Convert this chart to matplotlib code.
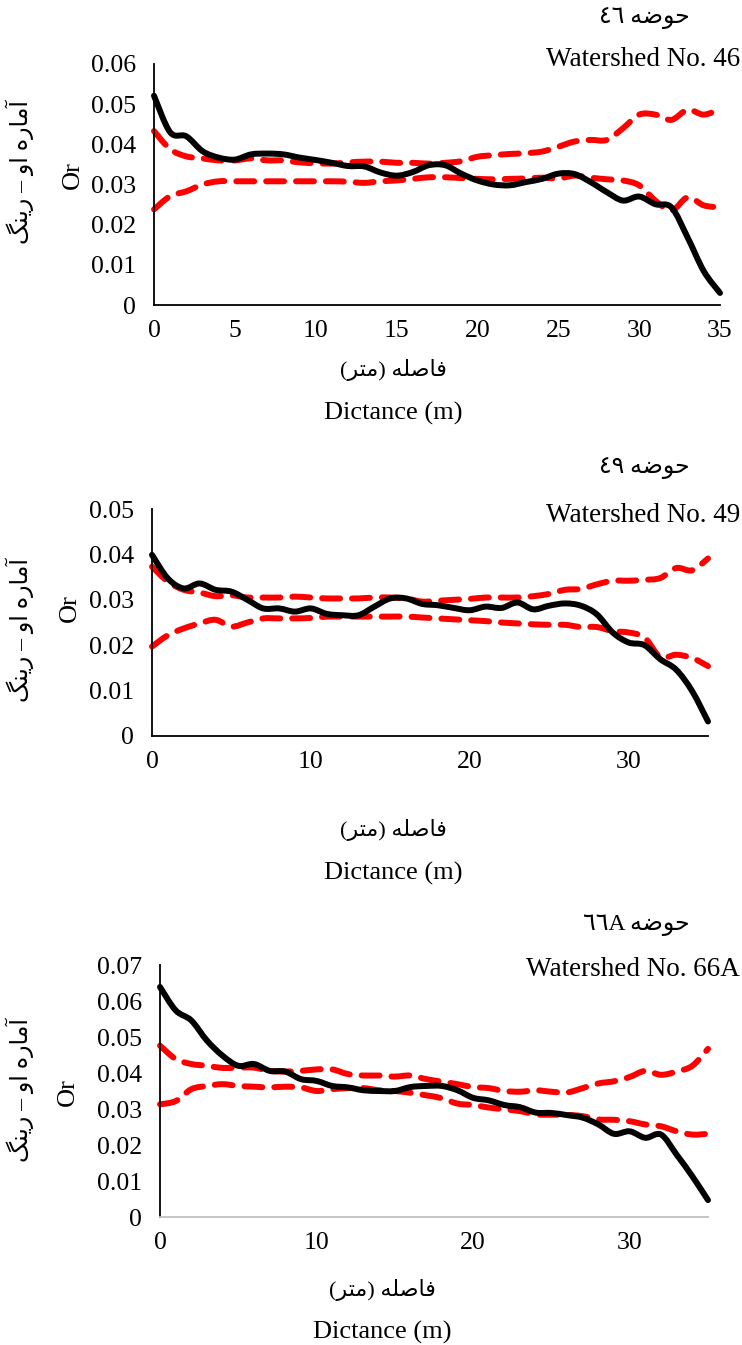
import numpy as np
import matplotlib
matplotlib.use("Agg")
import matplotlib.pyplot as plt
from matplotlib.path import Path
from matplotlib.patches import PathPatch

# distance steps (m)
dist = np.arange(0, 36)

# watershed 46
ws46_or = [0.0521, 0.0430, 0.0420, 0.0383, 0.0367, 0.0362, 0.0375, 0.0377, 0.0375, 0.0367,
           0.0361, 0.0354, 0.0346, 0.0345, 0.0330, 0.0322, 0.0331, 0.0348, 0.0348, 0.0327,
           0.0310, 0.0300, 0.0298, 0.0306, 0.0314, 0.0327, 0.0326, 0.0306, 0.0281, 0.0260,
           0.0270, 0.0251, 0.0243, 0.0168, 0.0084, 0.0030]
ws46_hi = [0.0433, 0.0388, 0.0370, 0.0365, 0.0360, 0.0360, 0.0365, 0.0360, 0.0360, 0.0355,
           0.0353, 0.0352, 0.0355, 0.0357, 0.0357, 0.0354, 0.0354, 0.0352, 0.0354, 0.0358,
           0.0369, 0.0373, 0.0376, 0.0378, 0.0382, 0.0394, 0.0407, 0.0411, 0.0411, 0.0440,
           0.0474, 0.0474, 0.0461, 0.0486, 0.0474, 0.0488]
ws46_lo = [0.0238, 0.0271, 0.0283, 0.0300, 0.0308, 0.0308, 0.0308, 0.0308, 0.0308, 0.0308,
           0.0308, 0.0308, 0.0307, 0.0304, 0.0308, 0.0310, 0.0314, 0.0318, 0.0318, 0.0316,
           0.0314, 0.0313, 0.0314, 0.0315, 0.0317, 0.0315, 0.0322, 0.0317, 0.0313, 0.0310,
           0.0298, 0.0260, 0.0235, 0.0268, 0.0248, 0.0243]

# watershed 49
ws49_or = [0.0399, 0.0347, 0.0325, 0.0336, 0.0322, 0.0318, 0.0300, 0.0281, 0.0281, 0.0274,
           0.0281, 0.0269, 0.0266, 0.0266, 0.0285, 0.0303, 0.0303, 0.0291, 0.0288, 0.0282,
           0.0277, 0.0285, 0.0282, 0.0294, 0.0279, 0.0287, 0.0292, 0.0287, 0.0268, 0.0228,
           0.0206, 0.0200, 0.0169, 0.0146, 0.0099, 0.0032]
ws49_hi = [0.0373, 0.0340, 0.0322, 0.0316, 0.0308, 0.0310, 0.0305, 0.0305, 0.0305, 0.0307,
           0.0305, 0.0303, 0.0303, 0.0303, 0.0305, 0.0305, 0.0303, 0.0296, 0.0298, 0.0300,
           0.0302, 0.0305, 0.0305, 0.0305, 0.0308, 0.0313, 0.0322, 0.0324, 0.0334, 0.0342,
           0.0342, 0.0344, 0.0348, 0.0370, 0.0365, 0.0391]
ws49_lo = [0.0197, 0.0222, 0.0237, 0.0248, 0.0256, 0.0241, 0.0250, 0.0259, 0.0259, 0.0259,
           0.0260, 0.0263, 0.0263, 0.0263, 0.0263, 0.0263, 0.0263, 0.0261, 0.0259, 0.0257,
           0.0255, 0.0253, 0.0250, 0.0248, 0.0246, 0.0245, 0.0245, 0.0240, 0.0240, 0.0231,
           0.0228, 0.0217, 0.0174, 0.0179, 0.0172, 0.0154]

# watershed 66A
ws66_or = [0.0639, 0.0574, 0.0546, 0.0490, 0.0448, 0.0420, 0.0425, 0.0406, 0.0404, 0.0383,
           0.0378, 0.0364, 0.0360, 0.0352, 0.0350, 0.0350, 0.0361, 0.0364, 0.0364, 0.0352,
           0.0331, 0.0324, 0.0311, 0.0305, 0.0290, 0.0289, 0.0283, 0.0276, 0.0257, 0.0231,
           0.0238, 0.0220, 0.0229, 0.0173, 0.0113, 0.0047]
ws66_hi = [0.0476, 0.0439, 0.0425, 0.0420, 0.0414, 0.0415, 0.0415, 0.0406, 0.0404, 0.0406,
           0.0410, 0.0410, 0.0397, 0.0393, 0.0393, 0.0390, 0.0393, 0.0383, 0.0376, 0.0369,
           0.0361, 0.0358, 0.0350, 0.0348, 0.0352, 0.0348, 0.0346, 0.0358, 0.0371, 0.0377,
           0.0389, 0.0406, 0.0395, 0.0404, 0.0420, 0.0467]
ws66_lo = [0.0313, 0.0322, 0.0355, 0.0364, 0.0369, 0.0364, 0.0362, 0.0360, 0.0362, 0.0360,
           0.0350, 0.0355, 0.0358, 0.0358, 0.0352, 0.0350, 0.0345, 0.0338, 0.0330, 0.0315,
           0.0311, 0.0304, 0.0299, 0.0294, 0.0285, 0.0284, 0.0284, 0.0280, 0.0271, 0.0270,
           0.0266, 0.0257, 0.0252, 0.0238, 0.0229, 0.0231]

# Arabic letters -> first presentation form, number of forms (4 dual-joining, 2 right-joining)
AR_FORMS = {
    'ا': (0xFE8D, 2), 'آ': (0xFE81, 2), 'و': (0xFEED, 2), 'ر': (0xFEAD, 2),
    'ت': (0xFE95, 4), 'ح': (0xFEA1, 4), 'ص': (0xFEB9, 4), 'ض': (0xFEBD, 4),
    'ف': (0xFED1, 4), 'ل': (0xFEDD, 4), 'م': (0xFEE1, 4), 'ن': (0xFEE5, 4),
    'ه': (0xFEE9, 4), 'ی': (0xFBFC, 4), 'گ': (0xFB92, 4),
}


def fa(word):
    # join letters and return the word in visual (left to right) order
    out = []
    for i, ch in enumerate(word):
        base, n = AR_FORMS[ch]
        prev = word[i - 1] if i > 0 else None
        nxt = word[i + 1] if i + 1 < len(word) else None
        jp = prev in AR_FORMS and AR_FORMS[prev][1] == 4
        jn = n == 4 and nxt in AR_FORMS
        form = {(False, False): 0, (True, False): 1, (False, True): 2, (True, True): 3}[(jp, jn)]
        out.append(chr(base + form))
    return ''.join(reversed(out))


def smooth(x, y):
    # Bezier path through the points, like a spreadsheet "smoothed line"
    P = np.column_stack([x, y]).astype(float)
    n = len(P)
    verts, codes = [P[0]], [Path.MOVETO]
    for i in range(n - 1):
        p0, p1, p2, p3 = P[max(i - 1, 0)], P[i], P[i + 1], P[min(i + 2, n - 1)]
        verts += [p1 + (p2 - p0) / 6, p2 - (p3 - p1) / 6, p2]
        codes += [Path.CURVE4] * 3
    return Path(verts, codes)


titles_fa = ['٤٦ ' + fa('حوضه'), '٤٩ ' + fa('حوضه'), '٦٦A ' + fa('حوضه')]
titles_en = ['Watershed No. 46', 'Watershed No. 49', 'Watershed No. 66A']
xlab_fa = '(' + fa('متر') + ') ' + fa('فاصله')
ylab_fa = fa('رینگ') + ' – ' + fa('او') + ' ' + fa('آماره')

W, H = 742, 1345
SERIF = ['Liberation Serif', 'DejaVu Sans']
fig = plt.figure(figsize=(W / 100, H / 100), dpi=100)


def px_text(x, y, s, **kw):
    fig.text(x / W, 1 - y / H, s, family=SERIF, **kw)


panels = [
    dict(data=(ws46_or, ws46_hi, ws46_lo), box=(154, 720, 64, 305), ymax=0.06,
         xticks=range(0, 36, 5), bottom='black', t_fa=18, t_en=60, xl=370, dl=413,
         orpos=(73, 175), ylpos=(20, 172), xc=393),
    dict(data=(ws49_or, ws49_hi, ws49_lo), box=(152, 708, 509, 736), ymax=0.05,
         xticks=range(0, 31, 10), bottom='black', t_fa=468, t_en=515, xl=830, dl=873,
         orpos=(70, 608), ylpos=(20, 630), xc=393),
    dict(data=(ws66_or, ws66_hi, ws66_lo), box=(160, 708, 965, 1217), ymax=0.07,
         xticks=range(0, 31, 10), bottom='#c0c0c0', t_fa=925, t_en=970, xl=1290, dl=1332,
         orpos=(68, 1092), ylpos=(20, 1090), xc=382),
]

for i, p in enumerate(panels):
    l, r, t, b = p['box']
    ax = fig.add_axes([l / W, 1 - b / H, (r - l) / W, (b - t) / H])
    o_ring, upper, lower = p['data']
    for env in (upper, lower):
        ax.add_patch(PathPatch(smooth(dist, env), fill=False, edgecolor='#ff0000', lw=4.3,
                               linestyle=(0, (3.0, 2.0)), capstyle='round',
                               joinstyle='round', clip_on=False, zorder=2))
    ax.add_patch(PathPatch(smooth(dist, o_ring), fill=False, edgecolor='black', lw=4.3,
                           capstyle='round', joinstyle='round', clip_on=False, zorder=3))
    ax.set_xlim(0, 35)
    ax.set_ylim(0, p['ymax'])
    ax.set_xticks(list(p['xticks']))
    ax.set_yticks(np.arange(0, p['ymax'] + 1e-9, 0.01))
    ax.set_yticklabels(['0'] + [f'{v:.2f}' for v in np.arange(0.01, p['ymax'] + 1e-9, 0.01)])
    ax.tick_params(length=0, labelsize=18.5, pad=13)
    ax.tick_params(axis='x', pad=11)
    for lab in ax.get_xticklabels() + ax.get_yticklabels():
        lab.set_family(SERIF)
    for side in ('top', 'right'):
        ax.spines[side].set_visible(False)
    ax.spines['left'].set_color('black')
    ax.spines['left'].set_linewidth(1.3)
    ax.spines['bottom'].set_color(p['bottom'])
    ax.spines['bottom'].set_linewidth(1.3)

    px_text(690, p['t_fa'], titles_fa[i], fontsize=17, ha='right', va='center')
    px_text(740, p['t_en'], titles_en[i], fontsize=19.5, ha='right', va='center')
    px_text(p['xc'], p['xl'], xlab_fa, fontsize=16, ha='center', va='center')
    px_text(p['xc'], p['dl'], 'Dictance (m)', fontsize=19, ha='center', va='center')
    px_text(*p['orpos'], 'Or', fontsize=19, rotation=90, ha='center', va='center')
    px_text(*p['ylpos'], ylab_fa, fontsize=17, rotation=90, ha='center', va='center')

fig.savefig('out.png', dpi=100)
